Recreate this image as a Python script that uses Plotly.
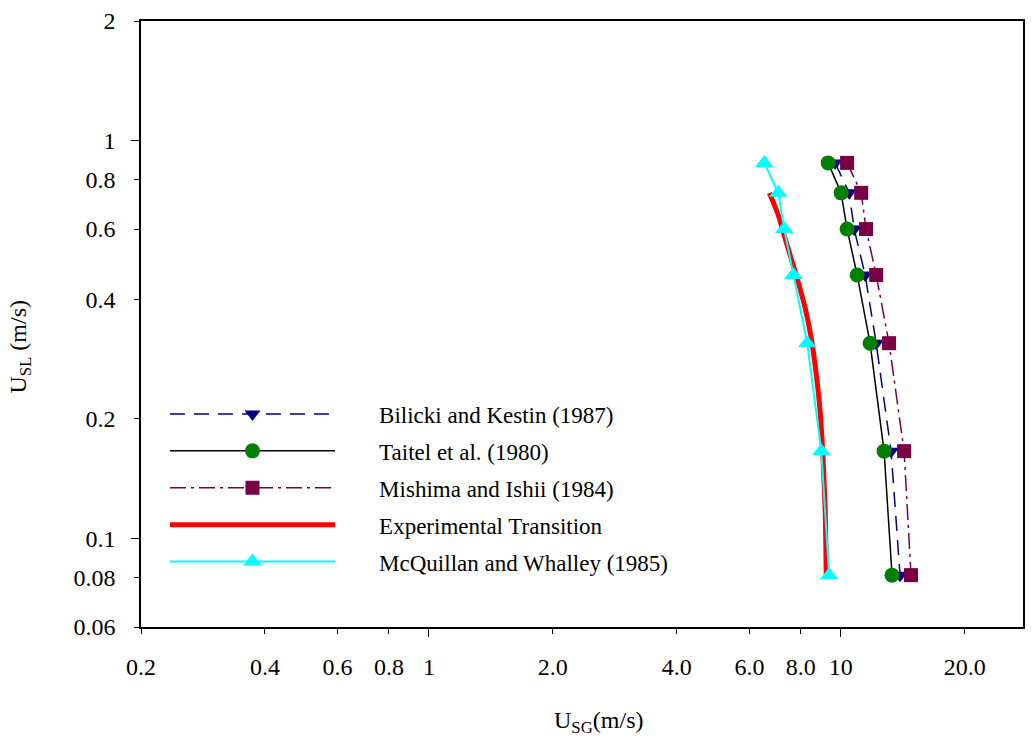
import numpy as np
import plotly.graph_objects as go

# Superficial liquid velocity levels (m/s) shared by the model curves
usl_levels = [0.88, 0.74, 0.60, 0.46, 0.31, 0.166, 0.081]

# Superficial gas velocity (m/s) at each level for every transition model
usg_bilicki = [9.69, 10.48, 10.78, 11.46, 12.19, 13.25, 13.93]
usg_taitel = [9.32, 10.02, 10.36, 10.96, 11.78, 12.74, 13.32]
usg_mishima = [10.36, 11.21, 11.52, 12.19, 13.10, 14.25, 14.81]
usg_mcquillan = [6.52, 7.05, 7.29, 7.67, 8.29, 8.97, 9.37]

# Experimentally observed transition boundary
exp_usg = [6.71, 7.05, 7.37, 7.79, 8.20, 8.48, 8.72, 8.92, 9.07, 9.17, 9.22]
exp_usl = [0.739, 0.651, 0.557, 0.461, 0.379, 0.319, 0.259, 0.206, 0.154, 0.116, 0.0815]

# Axis ticks
x_tickvals = [0.2, 0.4, 0.6, 0.8, 1, 2, 4, 6, 8, 10, 20]
x_ticktext = ["0.2", "0.4", "0.6", "0.8", "1", "2.0", "4.0", "6.0", "8.0", "10", "20.0"]
y_tickvals = [0.06, 0.08, 0.1, 0.2, 0.4, 0.6, 0.8, 1, 2]
y_ticktext = ["0.06", "0.08", "0.1", "0.2", "0.4", "0.6", "0.8", "1", "2"]
x_major = [1, 10]
y_major = [0.1, 1]

FONT = "Liberation Serif"
GAP = "\u00a0" * 6 + "\u2009"  # spacing between legend sample and its label
x_range = [np.log10(0.2), np.log10(27.7)]
y_range = [np.log10(0.06), np.log10(2)]

fig = go.Figure()

fig.add_trace(go.Scatter(
    x=usg_bilicki, y=usl_levels, mode="lines+markers",
    name=GAP + "Bilicki and Kestin (1987)", legendgroup="a",
    line=dict(color="#000080", width=1.5, dash="15px,9px"),
    marker=dict(symbol="triangle-down", size=14, color="#000080"),
))
fig.add_trace(go.Scatter(
    x=usg_taitel, y=usl_levels, mode="lines+markers",
    name=GAP + "Taitel et al. (1980)", legendgroup="b",
    line=dict(color="black", width=1.5),
    marker=dict(symbol="circle", size=15, color="#008000"),
))
fig.add_trace(go.Scatter(
    x=usg_mishima, y=usl_levels, mode="lines+markers",
    name=GAP + "Mishima and Ishii (1984)", legendgroup="c",
    line=dict(color="#7a0044", width=1.5, dash="16px,5px,3px,5px"),
    marker=dict(symbol="square", size=14, color="#7a0044"),
))
fig.add_trace(go.Scatter(
    x=exp_usg, y=exp_usl, mode="lines",
    name=GAP + "Experimental Transition", legendgroup="d",
    line=dict(color="#ff0000", width=5, shape="spline", smoothing=0.6),
))
fig.add_trace(go.Scatter(
    x=usg_mcquillan, y=usl_levels, mode="lines+markers",
    name=GAP + "McQuillan and Whalley (1985)", legendgroup="e",
    line=dict(color="#00ffff", width=2),
    marker=dict(symbol="triangle-up", size=16, color="#00ffff"),
))

axis_common = dict(
    type="log", showgrid=False, zeroline=False,
    showline=True, linecolor="black", linewidth=1.5, mirror=True,
    ticks="outside", ticklen=5, tickwidth=1.2, tickcolor="black",
    tickfont=dict(family=FONT, size=24, color="black"),
)

fig.update_layout(
    width=1033, height=742,
    margin=dict(l=141, r=8, t=18, b=115),
    paper_bgcolor="white", plot_bgcolor="white",
    font=dict(family=FONT, color="black"),
    showlegend=True,
    legend=dict(
        x=0.0272, y=0.387, xanchor="left", yanchor="top",
        bgcolor="rgba(0,0,0,0)", borderwidth=0,
        font=dict(family=FONT, size=23, color="black"),
        itemwidth=165, tracegroupgap=4, traceorder="grouped",
    ),
    xaxis=dict(axis_common, range=x_range, tickmode="array",
               tickvals=x_tickvals, ticktext=x_ticktext, ticklabelstandoff=12),
    yaxis=dict(axis_common, range=y_range, tickmode="array",
               tickvals=y_tickvals, ticktext=y_ticktext, ticklabelstandoff=14),
    # overlay axes carrying the longer decade ticks
    xaxis2=dict(type="log", range=x_range, overlaying="x", side="bottom",
                showgrid=False, zeroline=False, showline=False,
                tickmode="array", tickvals=x_major, ticks="outside",
                ticklen=9, tickwidth=1.2, tickcolor="black", showticklabels=False),
    yaxis2=dict(type="log", range=y_range, overlaying="y", side="left",
                showgrid=False, zeroline=False, showline=False,
                tickmode="array", tickvals=y_major, ticks="outside",
                ticklen=9, tickwidth=1.2, tickcolor="black", showticklabels=False),
    annotations=[
        dict(text="U<sub>SG</sub>(m/s)", xref="paper", yref="paper",
             x=0.519, y=-0.156, xanchor="center", yanchor="middle", showarrow=False,
             font=dict(family=FONT, size=24, color="black")),
        dict(text="U<sub>SL</sub> (m/s)", xref="paper", yref="paper",
             x=-0.137, y=0.463, xanchor="center", yanchor="middle", showarrow=False,
             textangle=-90, font=dict(family=FONT, size=24, color="black")),
    ],
)

# invisible trace so the overlay axes are laid out
fig.add_trace(go.Scatter(x=[1], y=[1], xaxis="x2", yaxis="y2", mode="markers",
                         marker=dict(opacity=0), showlegend=False, hoverinfo="skip"))

fig.write_html("out.html")
